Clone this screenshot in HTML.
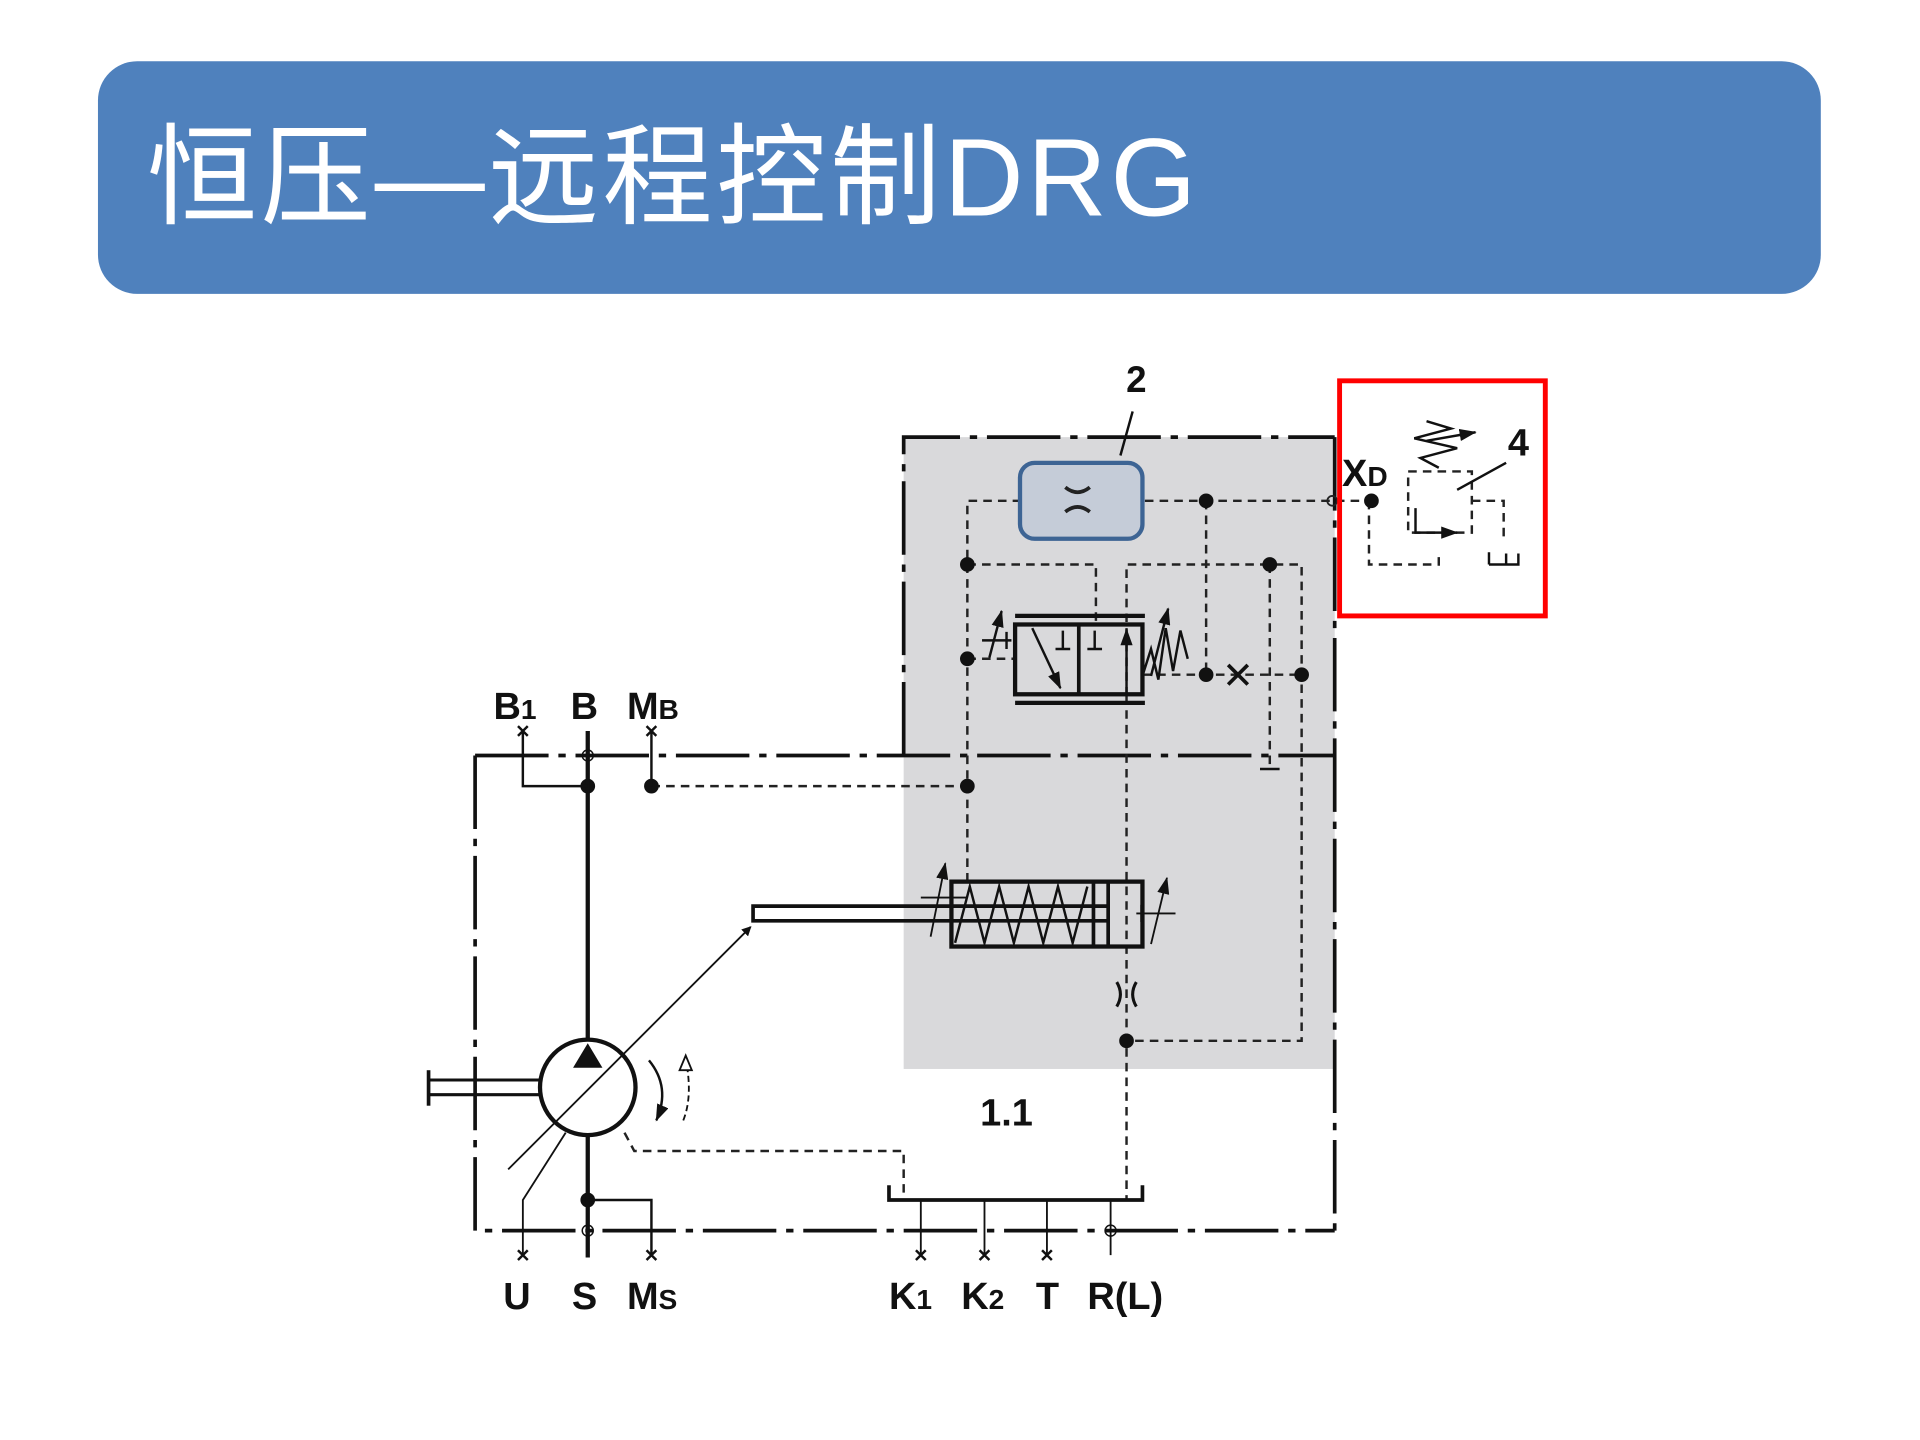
<!DOCTYPE html>
<html><head><meta charset="utf-8"><style>
html,body{margin:0;padding:0;background:#fff;width:1920px;height:1440px;overflow:hidden}
svg{display:block}
</style></head><body>
<svg width="1920" height="1440" viewBox="0 0 1568 1176" xmlns="http://www.w3.org/2000/svg">
<defs>
<marker id="ah" markerWidth="8" markerHeight="8" refX="7" refY="4" orient="auto" markerUnits="userSpaceOnUse"><path d="M0,0 L8,4 L0,8 z" fill="#111"/></marker>
<marker id="ahl" markerWidth="14" markerHeight="10" refX="13" refY="5" orient="auto" markerUnits="userSpaceOnUse"><path d="M0,0 L14,5 L0,10 z" fill="#111"/></marker>
</defs>
<rect x="80" y="50" width="1407" height="190" rx="32" fill="#4f81bd"/>
<text x="120" y="176" font-family="'Liberation Sans','Noto Sans CJK SC',sans-serif" font-size="90" letter-spacing="3" fill="#fff">恒压—远程控制DRG</text>

<rect x="738" y="357" width="352" height="516" fill="#d9d9db"/>

<g fill="none" stroke="#111" stroke-width="3" stroke-dasharray="60,8,6,8">
<path d="M388,617 H1090"/>
<path d="M388,617 V1005 H1090"/>
<path d="M1090,357 V1005"/>
<path d="M738,617 V357 H1090"/>
</g>

<text x="928" y="320" font-family="'Liberation Sans',sans-serif" font-weight="bold" font-size="30" fill="#111" text-anchor="middle">2</text>
<line x1="925" y1="336" x2="915" y2="372" stroke="#111" stroke-width="2"/>

<g fill="none" stroke="#222" stroke-width="2" stroke-dasharray="7,5">
<path d="M790,720 V409 H1118"/>
<path d="M985,409 V551"/>
<path d="M790,461 H895 V508"/>
<path d="M920,568 V461 H1063 V850 H920"/>
<path d="M920,568 V980"/>
<path d="M1037,461 V628"/>
<path d="M790,538 H829"/>
<path d="M933,551 H1063"/>
<path d="M532,642 H790"/>
<path d="M510,925 L518,940 H738 V978"/>
<path d="M1118,409 V461 H1175 V450"/>
<path d="M1150,409 V385 H1202 V435 H1150 Z"/>
<path d="M1202,409 H1228 V440"/>
</g>
<rect x="833" y="378" width="100" height="62" rx="12" fill="#c5ccd8" stroke="#3d6494" stroke-width="3.5"/>
<path d="M870,398 Q880,406 890,398 M870,418 Q880,410 890,418" fill="none" stroke="#222" stroke-width="3"/>
<g fill="#111">
<circle cx="985" cy="409" r="6"/><circle cx="790" cy="461" r="6"/><circle cx="1037" cy="461" r="6"/>
<circle cx="790" cy="538" r="6"/><circle cx="985" cy="551" r="6"/><circle cx="1063" cy="551" r="6"/>
<circle cx="790" cy="642" r="6"/><circle cx="480" cy="642" r="6"/><circle cx="532" cy="642" r="6"/>
<circle cx="920" cy="850" r="6"/><circle cx="480" cy="980" r="6"/><circle cx="1120" cy="409" r="6"/>
</g>
<circle cx="1088" cy="409" r="4" fill="none" stroke="#222" stroke-width="1.5"/>
<path d="M1003,543 L1019,559 M1019,543 L1003,559" stroke="#111" stroke-width="3"/>
<path d="M1029,628 H1045" stroke="#111" stroke-width="2"/>

<g stroke="#111" fill="none">
<rect x="829" y="510" width="104" height="57" stroke-width="3.5"/>
<line x1="881" y1="510" x2="881" y2="567" stroke-width="3"/>
<line x1="829" y1="503" x2="935" y2="503" stroke-width="3.5"/>
<line x1="829" y1="574" x2="935" y2="574" stroke-width="3.5"/>
<line x1="843" y1="513" x2="866" y2="562" stroke-width="2" marker-end="url(#ahl)"/>
<line x1="920" y1="567" x2="920" y2="514" stroke-width="2" marker-end="url(#ahl)"/>
<path d="M862,530 H874 M868,530 V515 M888,530 H900 M894,530 V515" stroke-width="2"/>
<path d="M933,552 L940,530 L946,555 L952,513 L958,548 L964,515 L970,538" stroke-width="2"/>
<path d="M802,523 H826 M822,516 V530" stroke-width="2"/>
<line x1="808" y1="537" x2="818" y2="499" stroke-width="2" marker-end="url(#ahl)"/>
<line x1="940" y1="552" x2="954" y2="497" stroke-width="2" marker-end="url(#ahl)"/>
</g>

<g stroke="#111" fill="none">
<line x1="480" y1="597" x2="480" y2="852" stroke-width="3.5"/>
<line x1="480" y1="927" x2="480" y2="1027" stroke-width="3.5"/>
<path d="M427,597 V642 H480" stroke-width="2"/>
<path d="M532,597 V642" stroke-width="2"/>
<path d="M480,980 H532 V1025" stroke-width="2"/>
<path d="M427,1025 V980 L462,925" stroke-width="1.5"/>
<circle cx="480" cy="888" r="39" stroke-width="3.5" fill="#fff"/>
<path d="M350,882 H441 M350,894 H441" stroke-width="2.5"/>
<line x1="350" y1="874" x2="350" y2="903" stroke-width="3"/>
<line x1="415" y1="955" x2="613" y2="757" stroke-width="1.5" marker-end="url(#ah)"/>
<path d="M905,740 H615 V752 H905" stroke-width="3"/>
<rect x="777" y="720" width="156" height="53" stroke-width="3.5"/>
<path d="M893,720 V773 M905,720 V773" stroke-width="3"/>
<path d="M780,770 L792,724 L804,770 L816,724 L828,770 L840,724 L852,770 L864,724 L876,770 L888,724" stroke-width="2"/>
<path d="M752,733 H790 M928,746 H960 M932,739 V753" stroke-width="1.5"/>
<line x1="760" y1="765" x2="772" y2="705" stroke-width="1.5" marker-end="url(#ahl)"/>
<line x1="940" y1="771" x2="953" y2="717" stroke-width="1.5" marker-end="url(#ahl)"/>
<path d="M912,802 Q918,812 912,822 M928,802 Q922,812 928,822" stroke-width="2.5"/>
<path d="M530,866 Q548,888 536,915" stroke-width="2" marker-end="url(#ahl)"/>
<path d="M558,915 Q566,895 560,865" stroke-width="1.5" stroke-dasharray="5,3"/>
<path d="M560,862 l-5,12 h10 z" stroke-width="1.5" fill="#fff"/>
<path d="M726,968 V980 H933 V968" stroke-width="3"/>
<path d="M752,980 V1025 M804,980 V1025 M855,980 V1025 M907,980 V1025" stroke-width="1.5"/>
<circle cx="480" cy="617" r="4.5" stroke-width="1.2"/>
<circle cx="480" cy="1005" r="4.5" stroke-width="1.2"/>
<circle cx="907" cy="1005" r="4.5" stroke-width="1.2"/>
<path d="M423,593 l8,8 m0,-8 l-8,8 M528,593 l8,8 m0,-8 l-8,8 M423,1021 l8,8 m0,-8 l-8,8 M528,1021 l8,8 m0,-8 l-8,8 M748,1021 l8,8 m0,-8 l-8,8 M800,1021 l8,8 m0,-8 l-8,8 M851,1021 l8,8 m0,-8 l-8,8" stroke-width="2"/>
</g>
<path d="M480,852 L468,872 L492,872 Z" fill="#111"/>

<g stroke="#111" fill="none" stroke-width="2">
<path d="M1156,415 V435 H1190" marker-end="url(#ahl)"/>
<path d="M1216,461 V451 M1216,461 H1240 V452 M1230,461 V452"/>
<path d="M1190,400 L1230,378"/>
<path d="M1175,382 L1160,374 L1190,366 L1155,358 L1185,350 L1165,344" />
<line x1="1165" y1="360" x2="1205" y2="353" marker-end="url(#ahl)"/>
</g>
<rect x="1094" y="311" width="168" height="192" fill="none" stroke="#f00" stroke-width="4"/>

<g font-family="'Liberation Sans',sans-serif" font-weight="bold" fill="#111">
<text x="1240" y="372" font-size="31" text-anchor="middle">4</text>
<text x="1096" y="397" font-size="31">X<tspan font-size="23">D</tspan></text>
<text x="403" y="587" font-size="31">B<tspan font-size="23">1</tspan></text>
<text x="466" y="587" font-size="31">B</text>
<text x="512" y="587" font-size="31">M<tspan font-size="23">B</tspan></text>
<text x="822" y="919" font-size="31" text-anchor="middle">1.1</text>
<text x="411" y="1069" font-size="31">U</text>
<text x="467" y="1069" font-size="31">S</text>
<text x="512" y="1069" font-size="31">M<tspan font-size="23">S</tspan></text>
<text x="726" y="1069" font-size="31">K<tspan font-size="23">1</tspan></text>
<text x="785" y="1069" font-size="31">K<tspan font-size="23">2</tspan></text>
<text x="846" y="1069" font-size="31">T</text>
<text x="888" y="1069" font-size="31">R(L)</text>
</g>
</svg>
</body></html>
